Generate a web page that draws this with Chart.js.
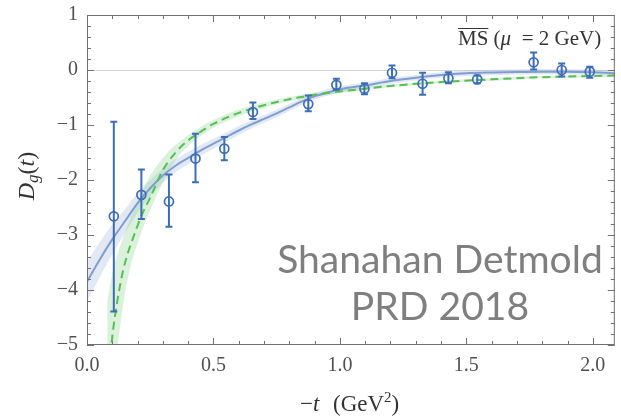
<!DOCTYPE html>
<html>
<head>
<meta charset="utf-8">
<script src="https://cdn.jsdelivr.net/npm/chart.js@4.4.1/dist/chart.umd.min.js"></script>
<style>
  html, body { margin: 0; padding: 0; background: #fff; }
</style>
</head>
<body>
<canvas id="chart" width="621" height="417"></canvas>
<script>
// lattice points: -t (GeV^2), D_g(t) and error bar ends
const tValues = [0.106, 0.215, 0.324, 0.429, 0.543, 0.656, 0.875, 0.986, 1.097, 1.206, 1.327, 1.429, 1.543, 1.766, 1.877, 1.988];
const dgValues = [-2.66, -2.27, -2.39, -1.61, -1.43, -0.765, -0.62, -0.27, -0.34, -0.05, -0.25, -0.15, -0.17, 0.14, 0.0, -0.03];
const errLow = [-4.39, -2.71, -2.85, -2.04, -1.64, -0.89, -0.75, -0.36, -0.44, -0.15, -0.45, -0.24, -0.24, 0.01, -0.12, -0.14];
const errHigh = [-0.94, -1.81, -1.90, -1.16, -1.22, -0.59, -0.465, -0.16, -0.24, 0.08, -0.05, -0.04, -0.10, 0.32, 0.12, 0.06];

// z-expansion fit (blue)
const blueT = [0, 0.05, 0.1, 0.15, 0.2, 0.25, 0.3, 0.35, 0.4, 0.45, 0.5, 0.55, 0.6, 0.65, 0.7, 0.75, 0.8, 0.85, 0.9, 0.95, 1.0, 1.1, 1.2, 1.3, 1.4, 1.5, 1.6, 1.7, 1.8, 1.9, 2.0, 2.1];
const blueFit = [-3.85, -3.45, -3.08, -2.75, -2.42, -2.15, -1.92, -1.74, -1.6, -1.46, -1.34, -1.22, -1.1, -0.99, -0.89, -0.79, -0.68, -0.57, -0.48, -0.41, -0.35, -0.28, -0.2, -0.14, -0.09, -0.06, -0.045, -0.035, -0.03, -0.03, -0.04, -0.06];
const blueHi = [-3.48, -3.13, -2.81, -2.53, -2.24, -2.0, -1.79, -1.62, -1.49, -1.36, -1.25, -1.135, -1.02, -0.915, -0.82, -0.72, -0.615, -0.505, -0.42, -0.35, -0.29, -0.225, -0.145, -0.09, -0.04, -0.01, 0.005, 0.015, 0.02, 0.02, 0.01, -0.01];
const blueLo = [-4.22, -3.77, -3.35, -2.97, -2.6, -2.3, -2.05, -1.86, -1.71, -1.56, -1.43, -1.305, -1.18, -1.065, -0.96, -0.86, -0.745, -0.635, -0.54, -0.47, -0.41, -0.335, -0.255, -0.19, -0.14, -0.11, -0.095, -0.085, -0.08, -0.08, -0.09, -0.11];

// tripole fit (green dashed)
const greenT = [0.08, 0.09, 0.1, 0.12, 0.14, 0.16, 0.18, 0.2, 0.22, 0.25, 0.3, 0.35, 0.4, 0.45, 0.5, 0.6, 0.7, 0.8, 0.9, 1.0, 1.1, 1.2, 1.4, 1.6, 1.8, 2.0, 2.1];
const greenFit = [-5.9, -5.35, -4.85, -4.2, -3.7, -3.35, -3.08, -2.83, -2.6, -2.32, -1.82, -1.5, -1.28, -1.12, -0.98, -0.78, -0.64, -0.53, -0.45, -0.39, -0.34, -0.29, -0.22, -0.17, -0.13, -0.11, -0.10];
const greenHi = [-4.2, -3.95, -3.7, -3.35, -3.08, -2.83, -2.6, -2.4, -2.2, -1.92, -1.6, -1.36, -1.18, -1.03, -0.91, -0.72, -0.59, -0.49, -0.415, -0.36, -0.31, -0.265, -0.195, -0.145, -0.11, -0.09, -0.08];
const greenLo = [-8.0, -7.0, -6.2, -5.1, -4.35, -3.82, -3.43, -3.15, -2.89, -2.55, -2.05, -1.64, -1.38, -1.2, -1.05, -0.84, -0.69, -0.57, -0.485, -0.42, -0.37, -0.315, -0.245, -0.195, -0.15, -0.13, -0.12];

// axis ticks
const xTicks = [0, 0.5, 1, 1.5, 2];
const yTicks = [-5, -4, -3, -2, -1, 0, 1];
const xMinorStep = 0.1;
const yMinorStep = 0.2;

const BLUE = "#3d6db4";
const pts = (xs, ys) => xs.map((x, i) => ({ x: x, y: ys[i] }));

const errData = [];
tValues.forEach((t, i) => {
  errData.push({ x: t, y: errLow[i] }, { x: t, y: errHigh[i] }, { x: t, y: null });
});

const serif = "'Liberation Serif', 'DejaVu Serif', serif";

// mixed-style text runs drawn left to right
function drawRuns(ctx, runs, x, y) {
  runs.forEach((r) => {
    ctx.font = r.font;
    ctx.fillText(r.text, x, y + (r.dy || 0));
    x += ctx.measureText(r.text).width;
  });
  return x;
}
function runsWidth(ctx, runs) {
  let w = 0;
  runs.forEach((r) => {
    ctx.font = r.font;
    w += ctx.measureText(r.text).width;
  });
  return w;
}

const framePlugin = {
  id: "frame",
  beforeDatasetsDraw(chart) {
    const { ctx, chartArea: a, scales } = chart;
    const y0 = scales.y.getPixelForValue(0);
    ctx.save();
    ctx.strokeStyle = "#d4d4d4";
    ctx.lineWidth = 1;
    ctx.beginPath();
    ctx.moveTo(a.left, Math.round(y0) + 0.5);
    ctx.lineTo(a.right, Math.round(y0) + 0.5);
    ctx.stroke();
    ctx.restore();
  },
  afterDatasetsDraw(chart) {
    const { ctx, chartArea: a, scales } = chart;
    const xs = scales.x, ys = scales.y;
    ctx.save();
    ctx.strokeStyle = "#707070";
    ctx.lineWidth = 1;
    ctx.strokeRect(a.left + 0.5, a.top + 0.5, a.right - a.left - 1, a.bottom - a.top - 1);

    ctx.beginPath();
    for (let i = 0; i * xMinorStep <= xs.max + 1e-9; i++) {
      const v = i * xMinorStep;
      const px = Math.round(xs.getPixelForValue(v)) + 0.5;
      const len = i % 5 === 0 ? 7 : 4;
      ctx.moveTo(px, a.bottom);
      ctx.lineTo(px, a.bottom - len);
      ctx.moveTo(px, a.top);
      ctx.lineTo(px, a.top + len);
    }
    for (let i = 0; ys.min + i * yMinorStep <= ys.max + 1e-9; i++) {
      const v = ys.min + i * yMinorStep;
      const py = Math.round(ys.getPixelForValue(v)) + 0.5;
      const len = i % 5 === 0 ? 7 : 4;
      ctx.moveTo(a.left, py);
      ctx.lineTo(a.left + len, py);
      ctx.moveTo(a.right, py);
      ctx.lineTo(a.right - len, py);
    }
    ctx.stroke();
    ctx.restore();
  },
  afterDraw(chart) {
    const { ctx } = chart;
    ctx.save();
    ctx.fillStyle = "#333";
    ctx.textBaseline = "alphabetic";

    // x axis title
    drawRuns(ctx, [
      { text: "\u2212", font: "23px " + serif },
      { text: "t", font: "italic 23px " + serif },
    ], 300, 411);
    drawRuns(ctx, [
      { text: "(GeV", font: "23px " + serif },
      { text: "2", font: "15px " + serif, dy: -9 },
      { text: ")", font: "23px " + serif },
    ], 333, 411);

    // y axis title, rotated
    const yRuns = [
      { text: "D", font: "italic 24px " + serif },
      { text: "g", font: "italic 17px " + serif, dy: 4 },
      { text: "(", font: "24px " + serif },
      { text: "t", font: "italic 24px " + serif },
      { text: ")", font: "24px " + serif },
    ];
    ctx.save();
    ctx.translate(34, 176);
    ctx.rotate(-Math.PI / 2);
    drawRuns(ctx, yRuns, -runsWidth(ctx, yRuns) / 2, 0);
    ctx.restore();

    // scheme annotation
    const msRuns = [
      { text: "MS", font: "21px " + serif },
      { text: " (", font: "21px " + serif },
      { text: "\u03bc", font: "italic 21px " + serif },
      { text: "\u2002= 2 GeV)", font: "21px " + serif },
    ];
    ctx.font = "21px " + serif;
    const msW = ctx.measureText("MS").width;
    drawRuns(ctx, msRuns, 458, 45);
    ctx.strokeStyle = "#333";
    ctx.lineWidth = 1;
    ctx.beginPath();
    ctx.moveTo(458, 28.5);
    ctx.lineTo(458 + msW, 28.5);
    ctx.stroke();

    // watermark
    ctx.fillStyle = "#7f7f7f";
    ctx.textAlign = "center";
    ctx.font = "40px Lato, 'Open Sans', sans-serif";
    const w = ctx.measureText("Shanahan Detmold").width;
    const size = 40 * 326 / w;
    ctx.font = size.toFixed(1) + "px Lato, 'Open Sans', sans-serif";
    ctx.fillText("Shanahan Detmold", 440, 273);
    ctx.fillText("PRD 2018", 440, 320);
    ctx.restore();
  },
};

new Chart(document.getElementById("chart"), {
  type: "line",
  data: {
    datasets: [
      {
        data: pts(blueT, blueLo),
        borderWidth: 0,
        pointRadius: 0,
        fill: false,
        order: 5,
        cubicInterpolationMode: "monotone",
      },
      {
        data: pts(blueT, blueHi),
        borderWidth: 0,
        pointRadius: 0,
        fill: "-1",
        backgroundColor: "rgba(150, 175, 215, 0.28)",
        order: 5,
        cubicInterpolationMode: "monotone",
      },
      {
        data: pts(greenT, greenLo),
        borderWidth: 0,
        pointRadius: 0,
        fill: false,
        order: 4,
        cubicInterpolationMode: "monotone",
      },
      {
        data: pts(greenT, greenHi),
        borderWidth: 0,
        pointRadius: 0,
        fill: "-1",
        backgroundColor: "rgba(130, 205, 130, 0.28)",
        order: 4,
        cubicInterpolationMode: "monotone",
      },
      {
        data: pts(blueT, blueFit),
        borderColor: "#7f9dd0",
        borderWidth: 2,
        pointRadius: 0,
        fill: false,
        order: 3,
        cubicInterpolationMode: "monotone",
      },
      {
        data: pts(greenT, greenFit),
        borderColor: "#55bf55",
        borderWidth: 2,
        borderDash: [8, 5],
        pointRadius: 0,
        fill: false,
        order: 2,
        cubicInterpolationMode: "monotone",
      },
      {
        data: errData,
        borderColor: BLUE,
        borderWidth: 2,
        pointStyle: "line",
        pointRadius: 3.5,
        pointBorderWidth: 2,
        pointBorderColor: BLUE,
        spanGaps: false,
        fill: false,
        order: 1,
      },
      {
        data: pts(tValues, dgValues),
        showLine: false,
        pointRadius: 4.5,
        pointBorderWidth: 1.7,
        pointBorderColor: BLUE,
        pointBackgroundColor: "rgba(0,0,0,0)",
        order: 0,
      },
    ],
  },
  options: {
    responsive: false,
    animation: false,
    layout: { padding: { top: 15, right: 4, left: 0, bottom: 0 } },
    plugins: {
      legend: { display: false },
      tooltip: { enabled: false },
    },
    scales: {
      x: {
        type: "linear",
        min: 0,
        max: 2.087,
        afterBuildTicks: (scale) => {
          scale.ticks = xTicks.map((v) => ({ value: v }));
        },
        afterFit: (scale) => {
          scale.height = 72;
          scale.paddingLeft = 0;
          scale.paddingRight = 0;
        },
        grid: { display: false, drawTicks: false },
        border: { display: false },
        ticks: {
          padding: 9,
          color: "#505050",
          font: { family: serif, size: 20 },
          callback: (v) => Number(v).toFixed(1),
        },
      },
      y: {
        min: -5,
        max: 1,
        afterBuildTicks: (scale) => {
          scale.ticks = yTicks.map((v) => ({ value: v }));
        },
        afterFit: (scale) => {
          scale.width = 87;
          scale.paddingTop = 0;
          scale.paddingBottom = 0;
        },
        grid: { display: false, drawTicks: false },
        border: { display: false },
        ticks: {
          padding: 9,
          color: "#505050",
          font: { family: serif, size: 20 },
          callback: (v) => (v < 0 ? "\u2212" + Math.abs(v) : String(v)),
        },
      },
    },
  },
  plugins: [framePlugin],
});
</script>
</body>
</html>
